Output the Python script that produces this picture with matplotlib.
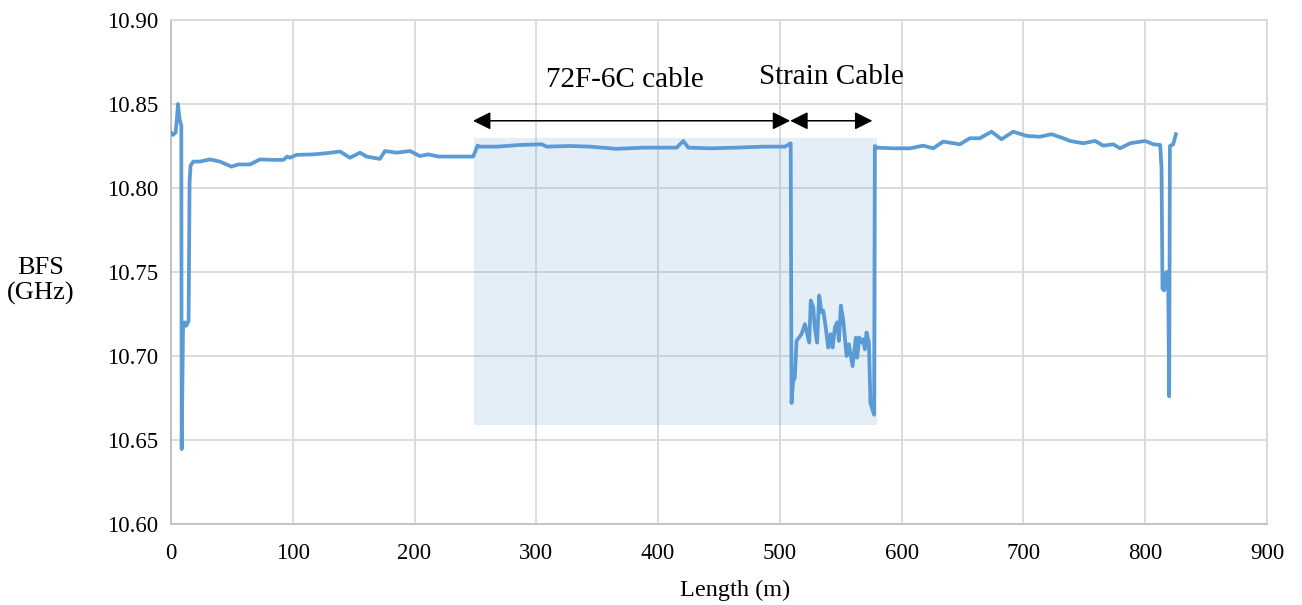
import matplotlib.pyplot as plt

# BFS trace along the fibre (length in m, BFS in GHz)
length_m = [0, 1.6, 3.8, 4.9, 5.7, 7.1, 8.5, 8.8, 9.9, 11.2, 12.6, 14.5, 15.3, 16.1,
            18.3, 23.7, 32, 40.2, 49.8, 55.3, 64.9, 73.1, 84, 92.2, 95.5, 97.7, 103.2,
            116.9, 127.8, 138.8, 147, 155.2, 160.6, 171.6, 175.7, 185.3, 196.2, 204.4,
            211.3, 219.5, 234.5, 248.2, 251.8, 253.7, 267.4, 286.6, 304.4, 308.5, 327.7,
            344.1, 366, 387.9, 415.3, 420.7, 424.8, 442.6, 464.5, 486.4, 504.2, 508.9,
            509.6, 510.9, 512.3, 513.7, 517.8, 520.6, 521.9, 524.1, 525.4, 527.4, 528.7,
            530.6, 532.3, 534.2, 535.6, 537.5, 539.7, 541.6, 543.3, 545.2, 547.1, 548.5,
            550.1, 552.1, 553.4, 554.8, 556.7, 558.1, 559.7, 561.1, 562.4, 563.5, 565.2,
            567.1, 568.4, 569.8, 571.2, 573.1, 574.4, 577.4, 578, 579.4, 593.1, 606.8,
            617.7, 625.9, 634.1, 647.8, 656, 664.2, 673.8, 682, 691.6, 702.6, 713.5,
            723.1, 732.7, 738.2, 749.2, 758.8, 765.6, 773.8, 779.3, 787.6, 799.9, 806.8,
            812.3, 813.4, 814.2, 815.6, 817.5, 818.9, 819.7, 820.3, 823, 825.2]
bfs_ghz = [10.833, 10.8316, 10.833, 10.841, 10.850, 10.841, 10.837, 10.6446, 10.716,
           10.720, 10.718, 10.721, 10.8034, 10.8133,
           10.8157, 10.8157, 10.817, 10.8157, 10.8127, 10.814, 10.814, 10.817, 10.8167,
           10.8167, 10.8187, 10.818, 10.8197, 10.820, 10.8207, 10.8217, 10.818, 10.821,
           10.8187, 10.8173, 10.822, 10.821, 10.822, 10.819, 10.820, 10.8187, 10.8187,
           10.8187, 10.8252, 10.8246, 10.8246, 10.8256, 10.826, 10.8246, 10.825, 10.8246,
           10.8233, 10.824, 10.824, 10.828, 10.824, 10.8236, 10.824, 10.8246, 10.8246,
           10.8266, 10.672, 10.685, 10.687, 10.709, 10.713, 10.719, 10.715, 10.708,
           10.733, 10.729, 10.717, 10.708, 10.736, 10.726, 10.727, 10.718, 10.705,
           10.713, 10.705, 10.717, 10.720, 10.709, 10.730, 10.721, 10.711, 10.700,
           10.707, 10.701, 10.694, 10.703, 10.711, 10.699, 10.711, 10.708, 10.710,
           10.704, 10.714, 10.708, 10.672, 10.665, 10.825, 10.824, 10.8236, 10.8236,
           10.8252, 10.8236, 10.8276, 10.826, 10.8296, 10.8296, 10.8335, 10.829, 10.8335,
           10.831, 10.8305, 10.832, 10.8296, 10.828, 10.8266, 10.828, 10.8252, 10.826,
           10.8236, 10.8266, 10.828, 10.826, 10.8256, 10.812, 10.740, 10.739, 10.750,
           10.741, 10.676, 10.825, 10.826, 10.832]

x_ticks = [0, 100, 200, 300, 400, 500, 600, 700, 800, 900]
y_ticks = [10.60, 10.65, 10.70, 10.75, 10.80, 10.85, 10.90]

line_blue = "#5B9BD5"
grid_grey = "#D9D9D9"

plt.rcParams["font.family"] = ["Liberation Serif", "DejaVu Serif"]

fig = plt.figure(figsize=(13.02, 6.05), dpi=100)
ax = fig.add_axes([0.1313, 0.1339, 0.8418, 0.8331])

# shaded cable section
ax.fill_between([249, 580], 10.659, 10.8296, color=line_blue, alpha=0.17, lw=0, zorder=1)

ax.plot(length_m, bfs_ghz, color=line_blue, lw=2.7, zorder=3, solid_joinstyle="round")

ax.set_xlim(0, 900)
ax.set_ylim(10.60, 10.90)
ax.set_xticks(x_ticks)
ax.set_yticks(y_ticks)
ax.set_yticklabels([f"{v:.2f}" for v in y_ticks])
ax.tick_params(axis="y", length=0, labelsize=16.5, pad=9)
ax.tick_params(axis="x", length=0, labelsize=16.5, pad=14)
ax.grid(True, color=grid_grey, lw=1.3, zorder=0)
ax.set_axisbelow(True)
for side in ["top", "right"]:
    ax.spines[side].set_color(grid_grey)
    ax.spines[side].set_linewidth(1.3)
for side in ["left", "bottom"]:
    ax.spines[side].set_color("#BFBFBF")
    ax.spines[side].set_linewidth(1.3)

fig.text(735 / 1302, 1 - 590 / 605, "Length (m)", fontsize=17.5, ha="center", va="center")
fig.text(0.031, 0.535, "BFS\n(GHz)", fontsize=19, ha="center", va="center",
         multialignment="center", linespacing=1.15)

# section arrows + labels
arrow_kw = dict(arrowstyle="<|-|>", color="black", lw=1.1, mutation_scale=27,
                shrinkA=0, shrinkB=0)
ax.annotate("", xy=(248, 10.840), xytext=(508.5, 10.840), arrowprops=arrow_kw)
ax.annotate("", xy=(508.5, 10.840), xytext=(576, 10.840), arrowprops=arrow_kw)
ax.text(373, 10.864, "72F-6C cable", fontsize=21, ha="center", va="center")
ax.text(542, 10.866, "Strain Cable", fontsize=21, ha="center", va="center")

fig.savefig("out.png", dpi=100)
